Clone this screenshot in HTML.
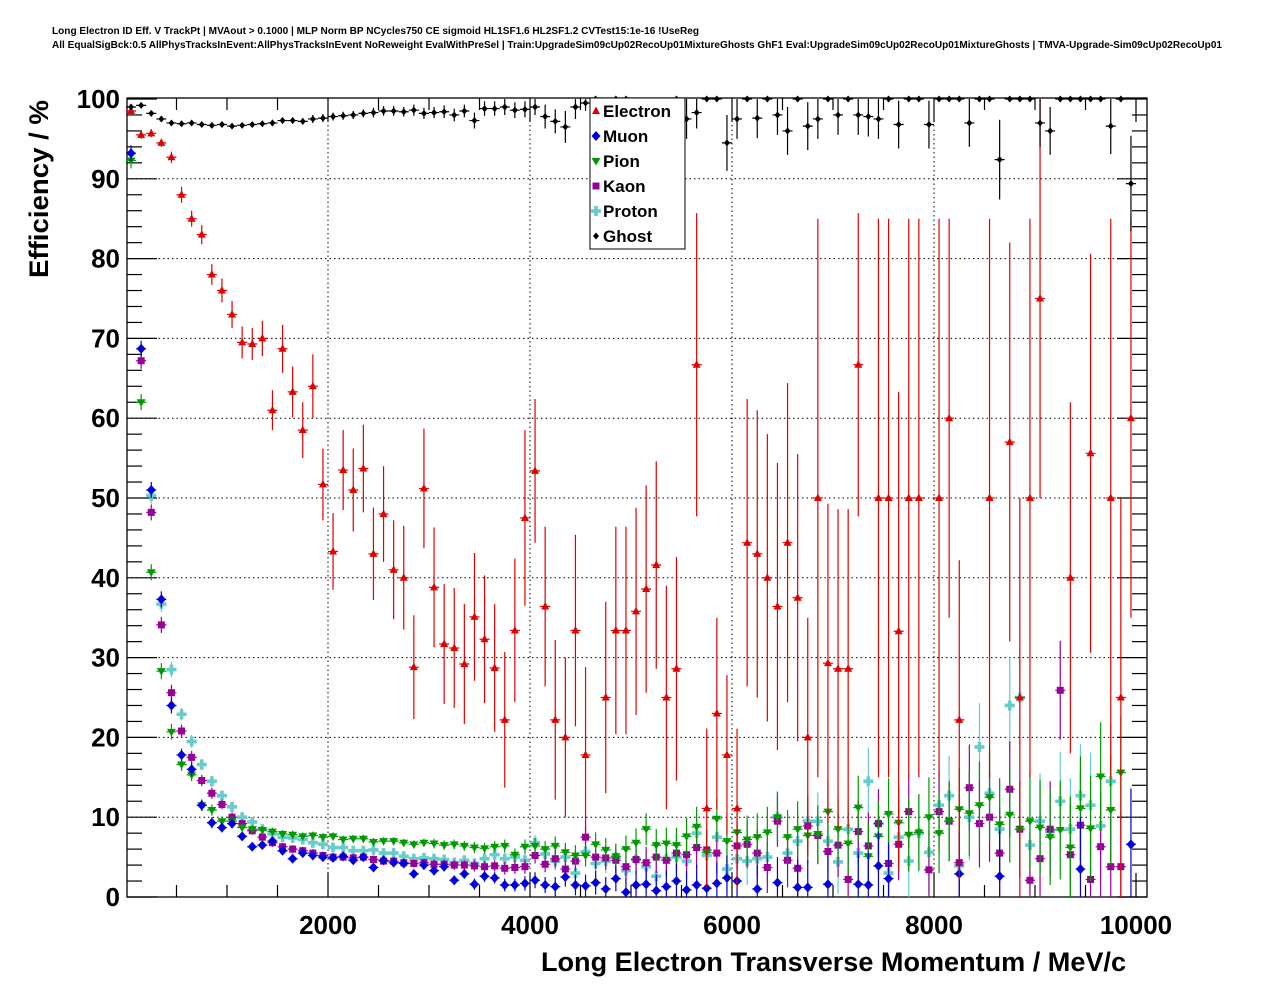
<!DOCTYPE html>
<html><head><meta charset="utf-8">
<style>
html,body{margin:0;padding:0;background:#fff;}
svg{display:block;font-family:"Liberation Sans",Arial,sans-serif;}
</style></head>
<body>
<svg id="chart" width="1276" height="996" viewBox="0 0 1276 996" xmlns="http://www.w3.org/2000/svg">
<rect x="0" y="0" width="1276" height="996" fill="#fff"/>
<text x="52" y="34" font-size="10" font-weight="bold" textLength="647" lengthAdjust="spacingAndGlyphs">Long Electron ID Eff. V TrackPt | MVAout &gt; 0.1000 | MLP Norm BP NCycles750 CE sigmoid HL1SF1.6 HL2SF1.2 CVTest15:1e-16 !UseReg</text>
<text x="52" y="48" font-size="10" font-weight="bold" textLength="1170" lengthAdjust="spacingAndGlyphs">All EqualSigBck:0.5 AllPhysTracksInEvent:AllPhysTracksInEvent NoReweight EvalWithPreSel | Train:UpgradeSim09cUp02RecoUp01MixtureGhosts GhF1 Eval:UpgradeSim09cUp02RecoUp01MixtureGhosts | TMVA-Upgrade-Sim09cUp02RecoUp01</text>
<g id="grid"></g>
<g id="axes"></g>
<g id="series"></g>
<text transform="translate(48,278) rotate(-90)" font-size="27" font-weight="bold" textLength="178" lengthAdjust="spacingAndGlyphs">Efficiency / %</text>
<text x="1126" y="971" font-size="27" font-weight="bold" text-anchor="end" textLength="585" lengthAdjust="spacingAndGlyphs">Long Electron Transverse Momentum / MeV/c</text>
<g id="legend"></g>
</svg>
<script>
const xTicks = [2000, 4000, 6000, 8000, 10000];
const yTicks = [0, 10, 20, 30, 40, 50, 60, 70, 80, 90, 100];
const seriesNames = ["Electron", "Muon", "Pion", "Kaon", "Proton", "Ghost"];
const electron = [98.5,95.5,95.7,94.5,92.7,88,85,83,78,76, 73,69.5,69.3,70,61,68.7,63.3,58.5,64,51.7, 43.3,53.5,51,53.7,43,48,41,40,28.8,51.2, 38.8,31.7,31.2,29.2,35.1,32.3,28.7,22.2,33.4,47.5, 53.4,36.4,22.2,20,33.4,17.8,null,25,33.4,33.4, 35.8,38.6,41.6,25,28.6,null,66.7,11.1,23,17.8, 11.1,44.4,43,40,36.4,44.4,37.5,20,50,29.3, 28.6,28.6,66.7,null,50,50,33.3,50,50,null, 50,60,22.2,null,null,50,null,57,25,50, 75,null,null,40,null,55.6,null,50,25,60];
const electronErr = [0.5,0.5,0.5,0.5,0.7,1,1,1.2,1.3,1.5, 1.7,2,2,2.2,2.5,3,3.2,3.5,4,4.5, 4.8,5,5.2,5.5,5.8,6,6.2,6.5,6.5,7.5, 7.5,7.5,7.5,7.5,8,8,8,8.5,9,11, 9,10,10,10,12,11,0,12,13,13, 13,13,13,14,14,0,19,10,12,10, 10,18,18,18,18,20,18,15,35,20, 20,20,19,0,35,35,30,35,35,0, 35,25,20,0,0,35,0,25,25,35, 25,0,0,22,0,25,0,35,25,25];
const muon = [93.2,68.7,51,37.3,24,17.8,16,11.5,9.3,8.7, 9.2,7.6,6.3,6.5,7,5.8,4.8,5.5,5.2,5, 4.9,5.1,4.6,5,3.7,4.6,4.3,4.2,2.9,4, 3.3,3.8,2.1,2.9,1.6,2.6,2.4,1.5,1.5,1.7, 2.1,1.5,1.3,2.5,1.5,1.4,1.8,1.0,2.3,0.6, 1.5,1.6,0.8,1.3,2.0,0.9,1.5,1.1,1.7,2.4, 2.0,null,1.0,null,1.8,null,1.2,1.2,null,1.6, null,null,1.6,1.5,3.9,2.3,null,null,null,null, null,null,2.9,null,null,null,2.6,null,null,null, null,null,null,null,3.5,null,null,null,null,6.6];
const pion = [92.3,62,40.7,28.3,20.7,16.6,15.3,11.5,10.9,9.5, 9.5,8.7,8.5,8.4,8.2,7.9,7.8,7.6,7.7,7.5, 7.6,7.2,7.3,7.3,6.9,7,7,6.8,6.6,6.8, 6.7,6.5,6.6,6.4,6.2,6.1,6.3,6.4,5.3,6.3, 6.4,6,6.4,5.6,5.2,5.2,6.6,5.9,5.1,6.0, 6.8,8.5,6.5,6.7,6.5,7.6,8.8,5.6,9.8,7.0, 8.1,7.2,7.5,8.1,10,7.5,8.5,7.7,7.9,10.7, 8.5,6.7,11.2,5.1,7.6,10.4,9.3,7.8,8.1,10.0, 8.0,9.5,11,10.5,11.5,12.5,9.1,10.3,8.5,9.5, 8.7,7.5,8.4,6.2,11.1,8.6,15.1,10.9,15.6,null];
const kaon = [null,67.2,48.2,34.1,25.6,20.8,17.5,14.6,13,11.6, 10,9.2,8.3,7.5,6.8,6.3,6,5.8,5.5,5.2, 5,5,4.9,5,4.7,4.5,4.5,4.3,4.2,4.3, 4.1,4.1,4.0,4.0,3.9,3.8,3.9,3.6,3.7,3.8, 5.2,4.1,4.8,3.5,4.5,7.5,5,4.9,4.6,3.8, 4.7,4.3,5.0,4.6,5.5,5.3,6.2,5.9,5.5,null, 6.4,6.6,5.5,3.7,9.5,4.6,3.6,8.9,7.7,5.7, 6.5,2.2,8.2,6.4,9.2,4.2,6.6,10.7,null,3.4, 10.7,9.5,4.3,13.7,9.2,10,5.5,13.5,8.5,2.1, 4.8,8.5,25.9,5.3,9,2.2,6.3,3.8,3.8,null];
const proton = [null,null,50.3,36.7,28.5,22.9,19.5,16.6,14.5,12.7, 11.3,10,9.4,8.5,7.9,7.5,7.4,7.2,6.8,6.6, 6.2,6.2,5.8,5.8,5.9,5.5,5.5,5.1,4.8,4.9, 4.8,4.7,4.3,4.6,4.2,4.8,5.3,4.8,5.0,4.6, 6.8,5.4,4.5,5.0,3.0,5.7,4.2,4.5,5.0,3.3, 4.7,3.8,2.6,4.8,5.0,4.5,8.0,5.2,7.5,3.5, 4.8,4.5,4.8,5.0,10,5.5,7.0,9.5,9.5,7.0, 4.4,8.5,5.5,14.5,9.2,3.0,7.5,4.5,8.0,5.6, 11.5,12.7,3.9,10,18.8,13,8.5,24,25,6.5, 9.5,8.2,12,8.5,12.7,11.5,8.9,14.5,null,null];
const ghost = [99,99.2,98.2,97.5,97,96.9,97,96.8,96.7,96.8, 96.6,96.7,96.8,96.9,97,97.3,97.3,97.2,97.5,97.6, 97.8,97.9,98,98.2,98.3,98.5,98.5,98.4,98.6,98.2, 98.3,98.4,98,98.5,97.3,98.8,98.8,99,98.6,98.7, 99,97.8,97.2,96.5,99,99.5,100,99,100,100, 99.8,99.5,97.8,98,100,97.5,98.3,100,100,94.5, 97.5,100,97.6,100,98,96,100,96.6,97.5,100, 98,100,98,97.8,97.5,100,96.8,100,100,96.8, 100,100,100,97,100,100,92.4,100,100,100, 97,96,100,100,100,100,100,96.6,100,89.4];
const ghostErr = [0.3,0.3,0.3,0.3,0.3,0.3,0.3,0.3,0.3,0.3, 0.3,0.3,0.3,0.3,0.4,0.4,0.4,0.4,0.5,0.5, 0.5,0.5,0.5,0.5,0.6,0.6,0.6,0.6,0.7,0.7, 0.7,0.8,0.8,0.8,1,0.9,0.9,1,1,1, 1,1.5,1.5,2,1.5,1,0,1.5,0,0, 1,1.5,2,2,0,2.5,2,0,0,3.5, 2.5,0,2.5,0,2.5,3,0,3,2.5,0, 2.5,0,2.5,2.5,2.5,0,3,0,0,3, 0,0,0,3,0,0,5,0,0,0, 3,3,0,0,0,0,0,3.5,0,6];
const lowErr = [1,1,1,1,1,0.8,0.8,0.7,0.7,0.6, 0.6,0.5,0.5,0.5,0.5,0.5,0.5,0.5,0.5,0.5, 0.5,0.5,0.5,0.5,0.5,0.5,0.5,0.5,0.5,0.5, 0.6,0.6,0.6,0.6,0.7,0.7,0.7,0.8,0.8,0.9, 1,1,1.2,1.2,1.3,1.4,1.5,1.5,1.6,1.7, 1.8,2,2,2,2.2,2.3,2.5,2.5,2.6,2.8, 3,3,3,3.2,3.2,3.4,3.5,3.5,3.6,3.8, 4,4,4,4.2,4.3,4.5,4.5,4.6,4.8,5, 5,5,5.2,5.4,5.5,5.6,5.8,6,6,6, 6,6,6.2,6.4,6.5,6.6,6.8,7,7,7];

const NS = "http://www.w3.org/2000/svg";
const X0 = 126, XS = 0.101, Y0 = 897, YS = 7.98;
const fx = v => X0 + v * XS;
const fy = v => Y0 - v * YS;
const binCenter = i => 50 + 100 * i;
const L = 127, R = 1147, T = 98, B = 897;

function mk(tag, attrs, parent) {
  const e = document.createElementNS(NS, tag);
  for (const k in attrs) e.setAttribute(k, attrs[k]);
  parent.appendChild(e);
  return e;
}
const grid = document.getElementById('grid');
const axes = document.getElementById('axes');
const series = document.getElementById('series');
const legend = document.getElementById('legend');

xTicks.forEach(t => {
  if (t >= 10000) return;
  const g = mk('line', {x1: fx(t), x2: fx(t), y1: T, y2: B, stroke: '#000', 'stroke-width': 1, 'stroke-dasharray': '1.5,3'}, grid);
  
  
});
yTicks.forEach(t => {
  if (t === 0 || t === 100) return;
  const g = mk('line', {x1: L, x2: R, y1: fy(t), y2: fy(t), stroke: '#000', 'stroke-width': 1, 'stroke-dasharray': '1.5,3'}, grid);
  
  
});

const fr = mk('rect', {x: L, y: T, width: R - L, height: B - T, fill: 'none', stroke: '#000', 'stroke-width': 1.3}, axes);



for (let v = 500; v <= 10000; v += 500) {
  const major = v % 2000 === 0;
  const len = major ? 24 : 12;
  const a = mk('line', {x1: fx(v), x2: fx(v), y1: B, y2: B - len, stroke: '#000', 'stroke-width': 1.2}, axes);
  
  
  const b = mk('line', {x1: fx(v), x2: fx(v), y1: T, y2: T + len, stroke: '#000', 'stroke-width': 1.2}, axes);
  
  
}
xTicks.forEach(t => {
  const tx = mk('text', {x: fx(t), y: 934, 'font-size': 26, 'font-weight': 'bold', 'text-anchor': 'middle'}, axes);
  tx.textContent = t;
  
  
});
for (let v = 0; v <= 100; v += 2) {
  const major = v % 10 === 0;
  const len = major ? 30 : 15;
  const a = mk('line', {x1: L, x2: L + len, y1: fy(v), y2: fy(v), stroke: '#000', 'stroke-width': 1.2}, axes);
  
  
  const b = mk('line', {x1: R, x2: R - len, y1: fy(v), y2: fy(v), stroke: '#000', 'stroke-width': 1.2}, axes);
  
  
}
yTicks.forEach(t => {
  const tx = mk('text', {x: 120, y: fy(t) + 9, 'font-size': 26, 'font-weight': 'bold', 'text-anchor': 'end'}, axes);
  tx.textContent = t;
  
  
});

function marker(type, cx, cy, color, parent) {
  let e;
  if (type === 'tri') e = mk('polygon', {points: `${cx},${cy-4.5} ${cx-4},${cy+3} ${cx+4},${cy+3}`, fill: color}, parent);
  else if (type === 'itri') e = mk('polygon', {points: `${cx},${cy+4.5} ${cx-4.5},${cy-3} ${cx+4.5},${cy-3}`, fill: color}, parent);
  else if (type === 'dia') e = mk('polygon', {points: `${cx},${cy-5} ${cx-4.5},${cy} ${cx},${cy+5} ${cx+4.5},${cy}`, fill: color}, parent);
  else if (type === 'sq') e = mk('rect', {x: cx - 3.5, y: cy - 3.5, width: 7, height: 7, fill: color}, parent);
  else if (type === 'cross') e = mk('path', {d: `M${cx-5},${cy-1.8}h3.2v-3.2h3.6v3.2h3.2v3.6h-3.2v3.2h-3.6v-3.2h-3.2z`, fill: color}, parent);
  else e = mk('polygon', {points: `${cx},${cy-3.5} ${cx-3},${cy} ${cx},${cy+3.5} ${cx+3},${cy}`, fill: color}, parent);
  return e;
}

const styles = [
  {name: 'electron', data: electron, err: electronErr, color: '#e00000', type: 'tri'},
  {name: 'muon', data: muon, err: lowErr, color: '#0000dd', type: 'dia'},
  {name: 'pion', data: pion, err: lowErr, color: '#009a00', type: 'itri'},
  {name: 'kaon', data: kaon, err: lowErr, color: '#990099', type: 'sq'},
  {name: 'proton', data: proton, err: lowErr, color: '#66cccc', type: 'cross'},
  {name: 'ghost', data: ghost, err: ghostErr, color: '#000000', type: 'gh'}
];
const drawOrder = [4, 3, 2, 1, 0, 5];
drawOrder.forEach(si => {
  const s = styles[si];
  const g = mk('g', {}, series);
  
  
  s.data.forEach((v, i) => {
    if (v === null || v === undefined) return;
    const cx = fx(binCenter(i)), cy = fy(v);
    const e = s.err[i] || 0;
    const top = Math.max(T, fy(Math.min(100, v + e))), bot = Math.min(B, fy(Math.max(0, v - e)));
    const eb = mk('path', {d: `M${cx-5},${cy}H${cx+5}M${cx},${top}V${bot}`, stroke: s.color, 'stroke-width': 1.2, fill: 'none'}, g);
    
    
    const m = marker(s.type, cx, cy, s.color, g);
    
    
  });
});

const lb = mk('rect', {x: 590, y: 98, width: 95, height: 151, fill: '#fff', stroke: '#000', 'stroke-width': 1}, legend);


seriesNames.forEach((n, k) => {
  const s = styles[k];
  const y = 111 + k * 25;
  const m = marker(s.type, 596, y, s.color, legend);
  
  
  const t = mk('text', {x: 603, y: y + 6, 'font-size': 17, 'font-weight': 'bold'}, legend);
  t.textContent = n;
  
  
});
</script>
</body></html>
